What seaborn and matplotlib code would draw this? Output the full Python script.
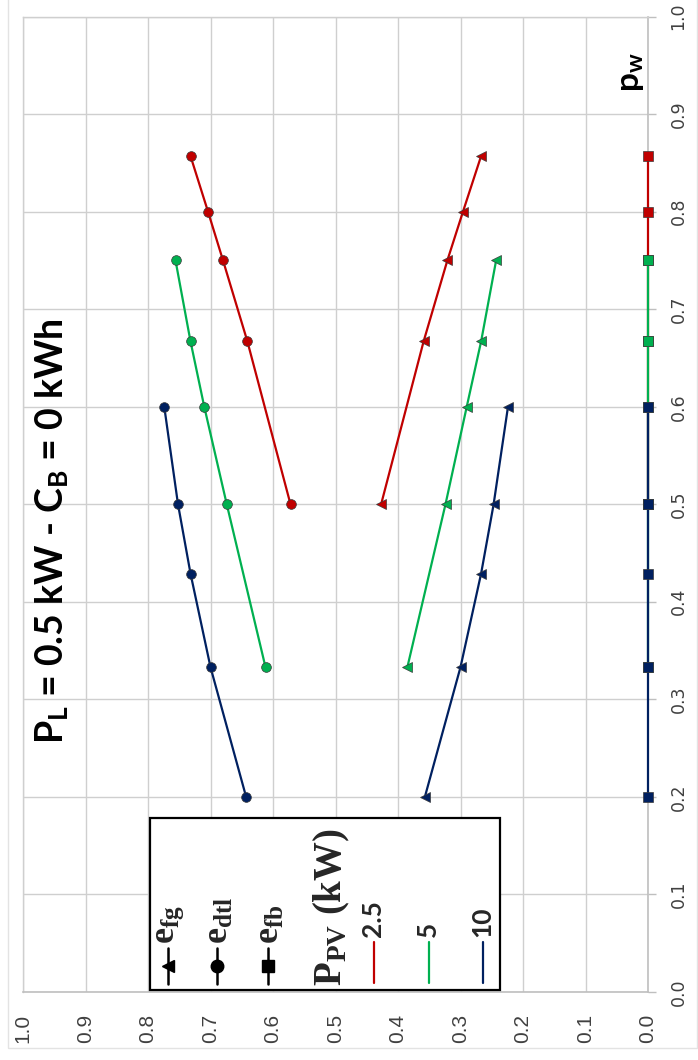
import numpy as np
import pandas as pd
import matplotlib
matplotlib.use("Agg")
import matplotlib.pyplot as plt
from matplotlib.lines import Line2D
from matplotlib.patches import Rectangle
import seaborn as sns

# ---------------- data ----------------
ppv_levels = ["2.5", "5", "10"]
colors = ["#C00000", "#00B050", "#002060"]

pw_25 = [0.5, 0.667, 0.75, 0.8, 0.857]
efg_25 = [0.427, 0.359, 0.321, 0.296, 0.267]
edtl_25 = [0.572, 0.641, 0.680, 0.704, 0.732]
efb_25 = [0.0, 0.0, 0.0, 0.0, 0.0]

pw_5 = [0.333, 0.5, 0.6, 0.667, 0.75]
efg_5 = [0.385, 0.324, 0.290, 0.267, 0.243]
edtl_5 = [0.612, 0.674, 0.710, 0.732, 0.756]
efb_5 = [0.0, 0.0, 0.0, 0.0, 0.0]

pw_10 = [0.2, 0.333, 0.429, 0.5, 0.6]
efg_10 = [0.357, 0.300, 0.267, 0.247, 0.224]
edtl_10 = [0.643, 0.700, 0.732, 0.752, 0.774]
efb_10 = [0.0, 0.0, 0.0, 0.0, 0.0]

metrics = ["efb", "edtl", "efg"]
metric_markers = {"efg": "<", "edtl": "o", "efb": "s"}
tick_vals = [0.0, 0.1, 0.2, 0.3, 0.4, 0.5, 0.6, 0.7, 0.8, 0.9, 1.0]
tick_labels = ["0.0", "0.1", "0.2", "0.3", "0.4", "0.5", "0.6", "0.7", "0.8", "0.9", "1.0"]

series = {
    "2.5": (pw_25, {"efg": efg_25, "edtl": edtl_25, "efb": efb_25}),
    "5": (pw_5, {"efg": efg_5, "edtl": edtl_5, "efb": efb_5}),
    "10": (pw_10, {"efg": efg_10, "edtl": edtl_10, "efb": efb_10}),
}

rows = []
for lvl in ppv_levels:
    pw, d = series[lvl]
    for m in metrics:
        for p, v in zip(pw, d[m]):
            rows.append({"ppv": lvl, "metric": m, "pw": p, "value": v})
df = pd.DataFrame(rows)

# ---------------- style ----------------
sns.set_theme(style="white")
plt.rcParams["mathtext.fontset"] = "custom"
plt.rcParams["mathtext.rm"] = "Liberation Serif:bold"
plt.rcParams["mathtext.sf"] = "Lato:bold"
plt.rcParams["mathtext.it"] = "Liberation Serif:bold"
plt.rcParams["mathtext.bf"] = "Liberation Serif:bold"

W, H = 698, 1060
fig = plt.figure(figsize=(W / 100, H / 100), dpi=100)
fig.patch.set_facecolor("white")

L, R, T, B = 23, 648, 16.5, 992
ax = fig.add_axes([L / W, 1 - B / H, (R - L) / W, (B - T) / H])

# chart area border
fig.patches.append(Rectangle((8 / W, 1 - 1048 / H), (697 - 8) / W, 1048 / H + 0.01,
                             transform=fig.transFigure, fill=False,
                             edgecolor="#E3E3E3", lw=1.0, zorder=0))

grid_c = "#CFCFCF"
for i, lvl in enumerate(ppv_levels):
    sub = df[df.ppv == lvl]
    for m in metrics:
        s = sub[sub.metric == m]
        sns.lineplot(data=s, x="value", y="pw", ax=ax, sort=False, estimator=None,
                     color=colors[i], lw=1.6, marker=metric_markers[m], ms=7,
                     markeredgecolor="#3A3A3A", markeredgewidth=0.5,
                     clip_on=False, zorder=5 + i, legend=False)

ax.set_xlim(1.0, 0.0)
ax.set_ylim(0.0, 1.0)
ax.set_xticks(tick_vals)
ax.set_xticklabels(tick_labels, rotation=90, fontsize=15, family="Liberation Sans",
                   va="top", ha="center")
ax.set_yticks(tick_vals)
ax.set_yticklabels(tick_labels, rotation=90, fontsize=12.5, family="DejaVu Sans",
                   va="center", ha="left")
ax.yaxis.tick_right()
ax.tick_params(axis="x", direction="out", length=6, width=1, color="#BFBFBF",
               pad=10, colors="#404040", labelcolor="#404040")
ax.tick_params(axis="y", direction="out", length=5.5, width=1, color="#BFBFBF",
               pad=10, labelcolor="#404040")
ax.tick_params(axis="x", colors="#BFBFBF", labelcolor="#404040")
ax.set_xlabel("")
ax.set_ylabel("")
ax.grid(True, color=grid_c, lw=1.0)
ax.set_axisbelow(True)
for s in ["left", "top"]:
    ax.spines[s].set_color(grid_c)
    ax.spines[s].set_linewidth(1.0)
for s in ["bottom", "right"]:
    ax.spines[s].set_color("#BFBFBF")
    ax.spines[s].set_linewidth(1.2)


def axx(px):
    return (px - L) / (R - L)


def axy(py):
    return (B - py) / (B - T)


# title
ax.text(axx(52), axy(531), r"P$_{\mathsf{L}}$ = 0.5 kW - C$_{\mathsf{B}}$ = 0 kWh",
        transform=ax.transAxes, rotation=90, ha="center", va="center",
        fontsize=27, fontweight="bold", family="Lato", color="black", zorder=20)

# p_w label
ax.text(axx(646), axy(72), r"p$_{\mathsf{w}}$", transform=ax.transAxes, rotation=90,
        ha="right", va="center", fontsize=24, fontweight="bold", family="Lato",
        color="black", zorder=20)

# manual rotated legend
ax.add_patch(Rectangle((axx(150), axy(990)), axx(500) - axx(150), axy(818) - axy(990),
                       transform=ax.transAxes, facecolor="white", edgecolor="black",
                       lw=1.6, zorder=30, clip_on=False))
for px, m, lab in [(168, "efg", r"e$_{\mathrm{fg}}$"), (217, "edtl", r"e$_{\mathrm{dtl}}$"),
                   (268, "efb", r"e$_{\mathrm{fb}}$")]:
    ax.add_line(Line2D([axx(px), axx(px)], [axy(984), axy(948)], transform=ax.transAxes,
                       color="black", lw=1.8, zorder=31, clip_on=False))
    ax.add_line(Line2D([axx(px)], [axy(966)], transform=ax.transAxes, color="black",
                       marker=metric_markers[m], ms=9, markeredgecolor="black",
                       zorder=32, clip_on=False))
    ax.text(axx(px + 2), axy(944), lab, transform=ax.transAxes, rotation=90,
            ha="center", va="bottom", fontsize=26, fontweight="bold",
            family="Liberation Serif", zorder=32)

ax.text(axx(332), axy(986), r"P$_{\mathrm{PV}}$ (kW)", transform=ax.transAxes, rotation=90,
        ha="center", va="bottom", fontsize=28, fontweight="bold",
        family="Liberation Serif", zorder=32)

for px, lvl, c in [(374, "2.5", colors[0]), (429, "5", colors[1]), (483, "10", colors[2])]:
    ax.add_line(Line2D([axx(px), axx(px)], [axy(983), axy(942)], transform=ax.transAxes,
                       color=c, lw=1.6, zorder=31, clip_on=False))
    ax.text(axx(px - 1), axy(937), lvl, transform=ax.transAxes, rotation=90,
            ha="center", va="bottom", fontsize=19, fontweight="bold",
            family="Lato", zorder=32)

fig.savefig("out.png", dpi=100, facecolor="white")
